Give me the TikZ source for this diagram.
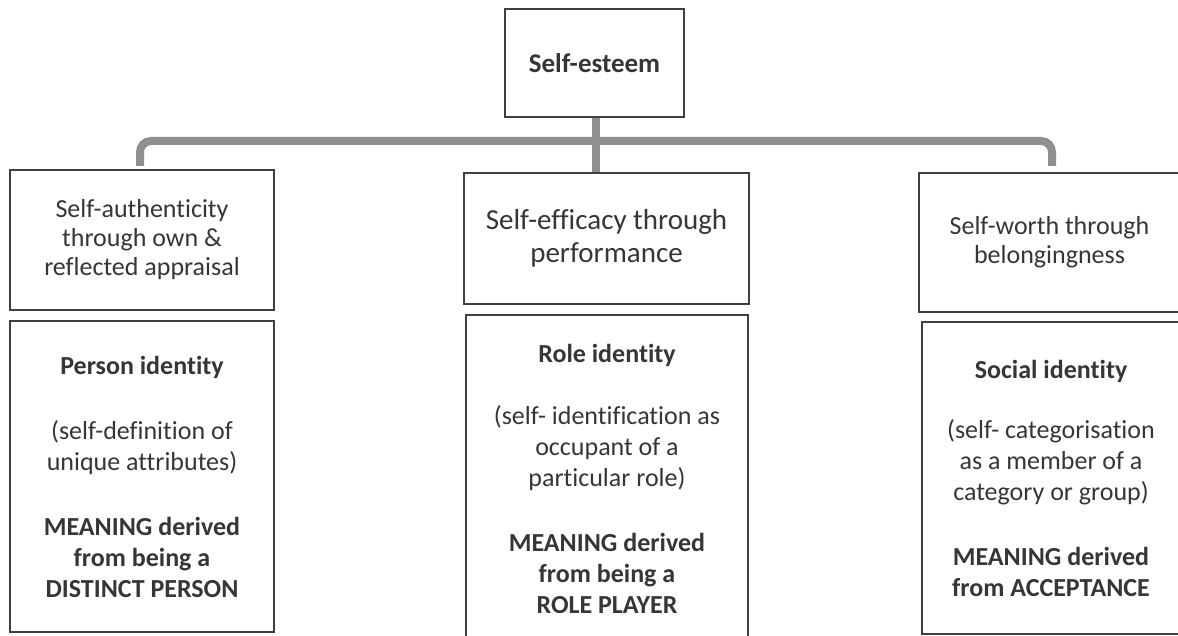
\documentclass[tikz,border=0pt]{standalone}
\usepackage{fontspec}
\setmainfont{Carlito}[RawFeature={-liga;-dlig}]
\definecolor{ink}{HTML}{363636}
\definecolor{edge}{HTML}{404040}
\definecolor{bar}{HTML}{8F8F8F}
\begin{document}
\begin{tikzpicture}[x=1pt, y=-1pt,
  box/.style={draw=edge, line width=2.4pt, fill=white, inner sep=0pt, align=center,
    text=ink, font=\fontsize{26}{29}\selectfont},
  idbox/.style={box, font=\fontsize{26}{31}\selectfont},
  conn/.style={draw=bar, line width=8pt}]
\useasboundingbox[fill=white] (0,0) rectangle (1178,636);

% top concept
\node[box, minimum width=179, minimum height=108, font=\fontsize{27}{31}\selectfont\bfseries]
  (top) at (594.5,63) {Self-esteem};

% three routes to self-esteem
\node[box, minimum width=264, minimum height=140] (lt) at (142,240)
  {Self-authenticity\\through own \&\\reflected appraisal};
\node[box, minimum width=285, minimum height=131, font=\fontsize{29}{33}\selectfont] (mt) at (606.5,238.5)
  {Self-efficacy through\\performance};
\node[box, minimum width=261, minimum height=139] (rt) at (1049.5,242.5)
  {Self-worth through\\belongingness};

% identity boxes
\node[idbox, minimum width=264, minimum height=311] (lb) at (142,476.5)
  {\textbf{Person identity}\\[34pt]
   (self-definition of\\unique attributes)\\[34pt]
   \textbf{MEANING derived}\\\textbf{from being a}\\\textbf{DISTINCT PERSON}};
\node[idbox, minimum width=282, minimum height=327] (mb) at (607,478.5)
  {\textbf{Role identity}\\[31pt]
   (self- identification as\\occupant of a\\particular role)\\[34pt]
   \textbf{MEANING derived}\\\textbf{from being a}\\\textbf{ROLE PLAYER}};
\node[idbox, minimum width=258, minimum height=312] (rb) at (1051,478)
  {\textbf{Social identity}\\[29pt]
   (self- categorisation\\as a member of a\\category or group)\\[34pt]
   \textbf{MEANING derived}\\\textbf{from ACCEPTANCE}};

% bracket connector
\coordinate (hub) at (596,141);
\coordinate (la) at (140,166);
\coordinate (ra) at (1052,166);
\draw[conn, rounded corners=11] (la) |- (hub) -| (ra);
\draw[conn] (top.south -| hub) -- (mt.north -| hub);
\end{tikzpicture}
\end{document}
